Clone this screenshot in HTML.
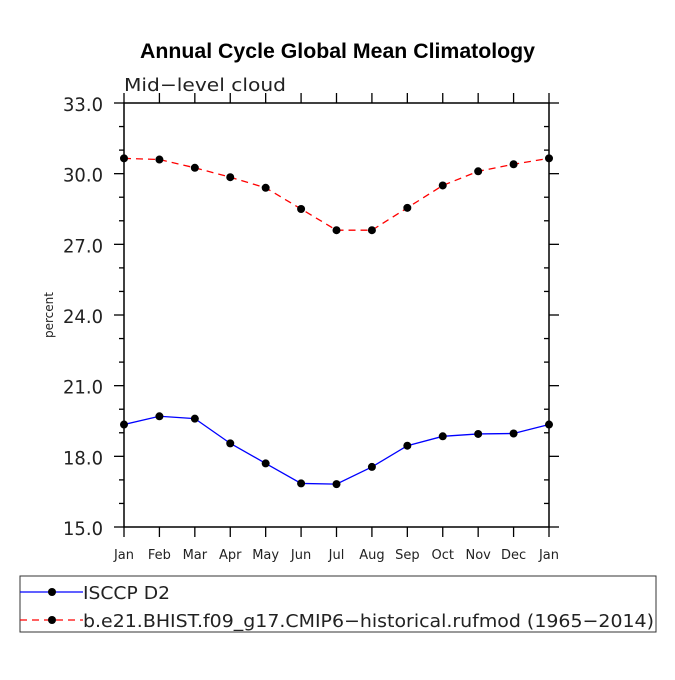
<!DOCTYPE html>
<html><head><meta charset="utf-8"><style>
body{margin:0;background:#fff}
svg text{font-family:"DejaVu Sans","Liberation Sans",sans-serif}
</style></head><body>
<svg id="chart" width="675" height="675" viewBox="0 0 675 675" xmlns="http://www.w3.org/2000/svg">
<text x="140" y="58" font-size="21" font-weight="bold" textLength="395" lengthAdjust="spacingAndGlyphs" style="font-family:'Liberation Sans',sans-serif">Annual Cycle Global Mean Climatology</text>
<text x="124" y="91" font-size="18" fill="#222" textLength="162" lengthAdjust="spacingAndGlyphs">Mid−level cloud</text>
<text transform="translate(53,315) rotate(-90)" text-anchor="middle" font-size="12" fill="#222">percent</text>
<g id="axes"></g>
<g id="series"></g>
<g>
<rect x="20" y="576" width="636" height="56" fill="none" stroke="#333" stroke-width="1"/>
<g>
<line x1="20" y1="592" x2="83" y2="592" stroke="#0000ff" stroke-width="1.3"/>
<circle cx="52" cy="592" r="4" fill="#000"/>
<text x="83" y="599" font-size="18" fill="#222" textLength="87" lengthAdjust="spacingAndGlyphs">ISCCP D2</text></g>
<g>
<line x1="20" y1="620" x2="83" y2="620" stroke="#ff0000" stroke-width="1.3" stroke-dasharray="7,5"/>
<circle cx="52" cy="620" r="4" fill="#000"/>
<text x="83" y="627" font-size="18" fill="#222" textLength="571" lengthAdjust="spacingAndGlyphs">b.e21.BHIST.f09_g17.CMIP6−historical.rufmod (1965−2014)</text></g>
</g>
</svg>
<script>
const months = ["Jan","Feb","Mar","Apr","May","Jun","Jul","Aug","Sep","Oct","Nov","Dec","Jan"];
const yTicks = [15,18,21,24,27,30,33];
const isccp = [19.35,19.7,19.6,18.55,17.7,16.85,16.82,17.55,18.45,18.85,18.95,18.97,19.35];
const model = [30.65,30.6,30.25,29.85,29.4,28.5,27.6,27.6,28.55,29.5,30.1,30.4,30.65];

const NS="http://www.w3.org/2000/svg";
const L=124,R=549,T=103,B=527,ymin=15,ymax=33;
const xs=i=>L+(R-L)*i/(months.length-1);
const ys=v=>B-(B-T)*(v-ymin)/(ymax-ymin);
const axes=document.getElementById('axes');
const ser=document.getElementById('series');
function mk(tag,attrs,parent){const e=document.createElementNS(NS,tag);for(const k in attrs)e.setAttribute(k,attrs[k]);parent.appendChild(e);return e;}

const frame=mk('rect',{x:L,y:T,width:R-L,height:B-T,fill:'none',stroke:'#000','stroke-width':1.5},axes);


months.forEach((m,i)=>{
  const x=xs(i);
  const t1=mk('line',{x1:x,y1:B,x2:x,y2:B+10,stroke:'#000','stroke-width':1.3},axes);
  
  
  const t2=mk('line',{x1:x,y1:T,x2:x,y2:T-10,stroke:'#000','stroke-width':1.3},axes);
  
  
  const tx=mk('text',{x:x,y:B+32,'text-anchor':'middle','font-size':13,fill:'#222'},axes);
  tx.textContent=m;
  
  
});
for(let v=ymin;v<=ymax;v+=1){
  const y=ys(v);const major=(v-ymin)%3===0;
  const a=mk('line',{x1:L,y1:y,x2:L-(major?10:5),y2:y,stroke:'#000','stroke-width':1.3},axes);
  
  
  const b=mk('line',{x1:R,y1:y,x2:major?R+10:R-5,y2:y,stroke:'#000','stroke-width':1.3},axes);
  
  
}
yTicks.forEach(v=>{
  const tx=mk('text',{x:63,y:ys(v)+8,'font-size':19,fill:'#222',textLength:40,lengthAdjust:'spacingAndGlyphs'},axes);
  tx.textContent=v.toFixed(1);
  
  
});
function draw(vals,color,dash,name){
  const p=mk('polyline',{points:vals.map((v,i)=>xs(i)+','+ys(v)).join(' '),fill:'none',stroke:color,'stroke-width':1.3,'stroke-dasharray':dash},ser);
  
  
  vals.forEach((v,i)=>{
    const c=mk('circle',{cx:xs(i),cy:ys(v),r:4,fill:'#000'},ser);
    
    
  });
}
draw(isccp,'#0000ff','none','isccp');
draw(model,'#ff0000','7,5','model');
</script>
</body></html>
